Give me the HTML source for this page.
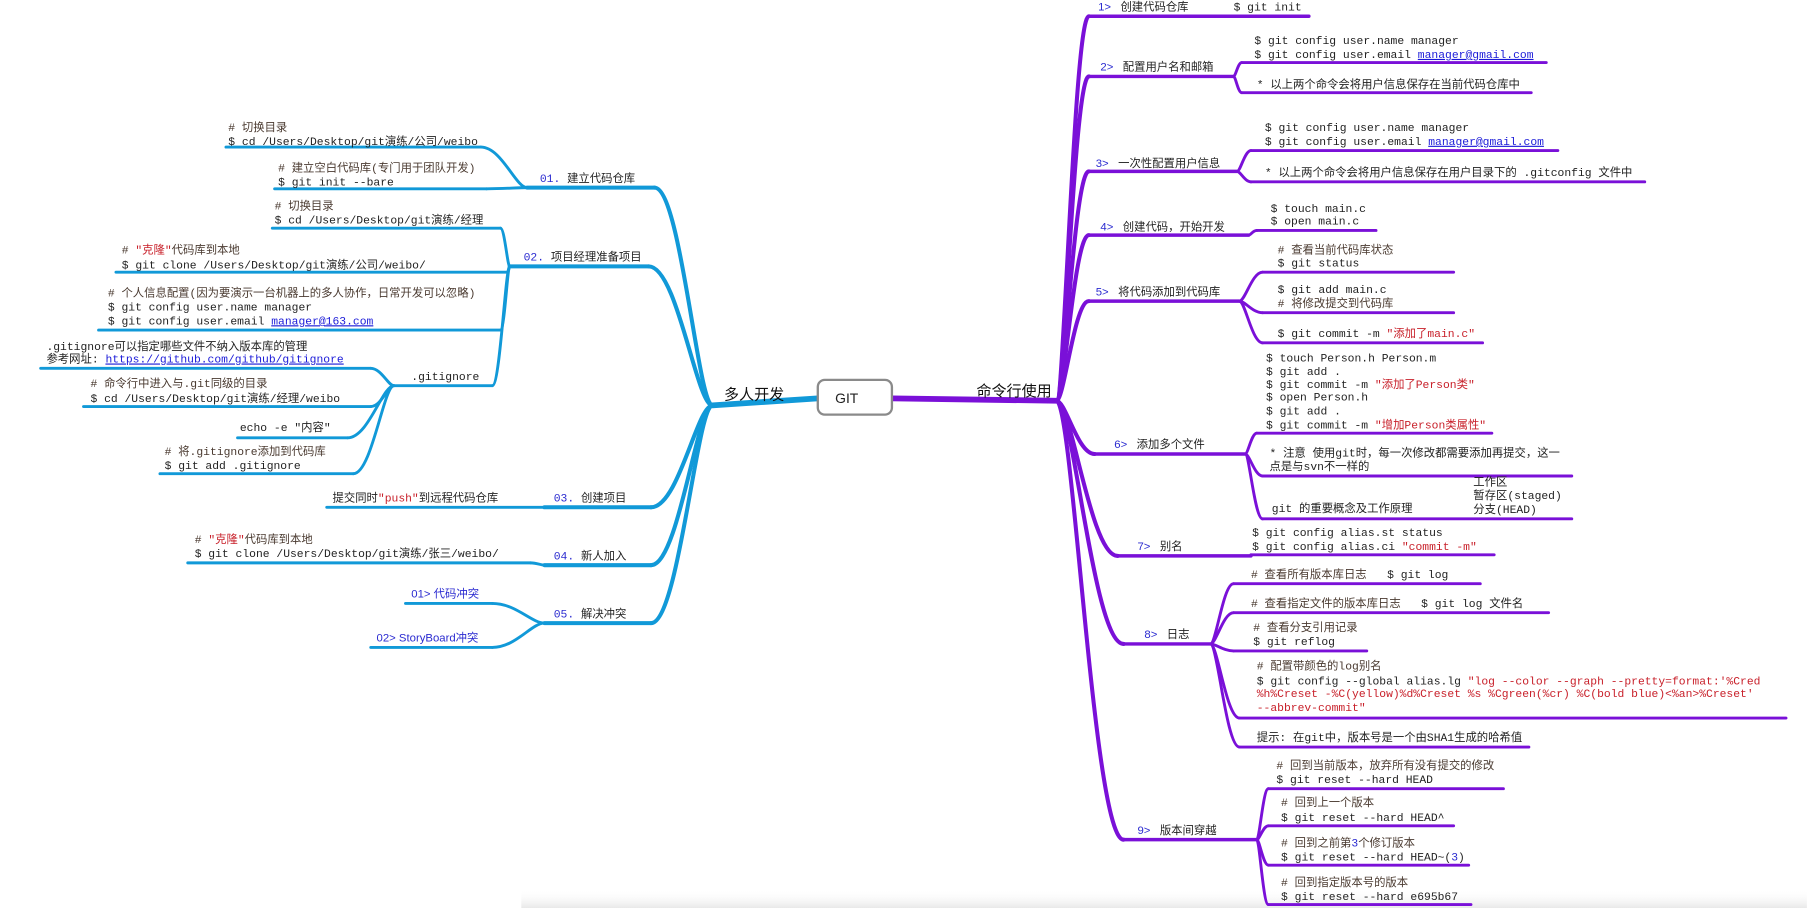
<!DOCTYPE html>
<html><head><meta charset="utf-8">
<style>
html,body{margin:0;padding:0;background:#fff;}
svg{display:block;}
text{font-family:"Liberation Mono","Noto Sans CJK SC",monospace;font-size:9.8px;fill:#222;white-space:pre;}
.s{font-family:"Liberation Sans","Noto Sans CJK SC",sans-serif;}
.b{fill:#2a2ad0;}
.r{fill:#c8202a;}
.c{fill:#4a3a30;}
.u{fill:#1a1ad8;text-decoration:underline;}
.big{font-family:"Liberation Sans","Noto Sans CJK SC",sans-serif;font-size:13px;fill:#111;}
</style></head><body>
<svg id="m" width="1807" height="908" viewBox="0 0 1560 784" xmlns="http://www.w3.org/2000/svg" xml:space="preserve">
<defs><linearGradient id="sh" x1="0" y1="0" x2="0" y2="1"><stop offset="0" stop-color="#fff" stop-opacity="0"/><stop offset="1" stop-color="#e8e8e8"/></linearGradient></defs>
<rect x="450" y="768" width="1110" height="16" fill="url(#sh)"/>
<g id="lines" fill="none" stroke-linecap="round"></g>

<rect x="706" y="328" width="64" height="30" rx="6" fill="#fff" stroke="#8a8a8a" stroke-width="2"/>
<text x="721" y="348" class="s" style="font-size:12px">GIT</text>
<text x="625" y="345" class="big">多人开发</text>
<text x="843" y="342" class="big">命令行使用</text>

<text x="466" y="157"><tspan class="b">01.</tspan> <tspan class="s">建立代码仓库</tspan></text>
<text x="197" y="113" class="c"># 切换目录</text>
<text x="197" y="125">$ cd /Users/Desktop/git演练/公司/weibo</text>
<text x="240" y="148" class="c"># 建立空白代码库(专门用于团队开发)</text>
<text x="240" y="160">$ git init --bare</text>

<text x="452" y="225"><tspan class="b">02.</tspan> <tspan class="s">项目经理准备项目</tspan></text>
<text x="237" y="181" class="c"># 切换目录</text>
<text x="237" y="193">$ cd /Users/Desktop/git演练/经理</text>
<text x="105" y="219" class="c"># <tspan class="r">"克隆"</tspan>代码库到本地</text>
<text x="105" y="232">$ git clone /Users/Desktop/git演练/公司/weibo/</text>
<text x="93" y="256" class="c"># 个人信息配置(因为要演示一台机器上的多人协作，日常开发可以忽略)</text>
<text x="93" y="268">$ git config user.name manager</text>
<text x="93" y="280">$ git config user.email <tspan class="u">manager@163.com</tspan></text>
<text x="355" y="328">.gitignore</text>
<text x="40" y="302">.gitignore可以指定哪些文件不纳入版本库的管理</text>
<text x="40" y="313">参考网址: <tspan class="u">https://github.com/github/gitignore</tspan></text>
<text x="78" y="334" class="c"># 命令行中进入与.git同级的目录</text>
<text x="78" y="347">$ cd /Users/Desktop/git演练/经理/weibo</text>
<text x="207" y="372">echo -e "内容"</text>
<text x="142" y="393" class="c"># 将.gitignore添加到代码库</text>
<text x="142" y="405">$ git add .gitignore</text>

<text x="478" y="433"><tspan class="b">03.</tspan> <tspan class="s">创建项目</tspan></text>
<text x="287" y="433">提交同时<tspan class="r">"push"</tspan>到远程代码仓库</text>
<text x="478" y="483"><tspan class="b">04.</tspan> <tspan class="s">新人加入</tspan></text>
<text x="168" y="469" class="c"># <tspan class="r">"克隆"</tspan>代码库到本地</text>
<text x="168" y="481">$ git clone /Users/Desktop/git演练/张三/weibo/</text>
<text x="478" y="533"><tspan class="b">05.</tspan> <tspan class="s">解决冲突</tspan></text>
<text x="355" y="516" class="s b">01&gt; 代码冲突</text>
<text x="325" y="554" class="s b">02&gt; StoryBoard冲突</text>

<text x="948" y="9" class="s"><tspan class="b">1&gt;</tspan>   创建代码仓库</text>
<text x="1065" y="9">$ git init</text>
<text x="950" y="61" class="s"><tspan class="b">2&gt;</tspan>   配置用户名和邮箱</text>
<text x="1083" y="38">$ git config user.name manager</text>
<text x="1083" y="50">$ git config user.email <tspan class="u">manager@gmail.com</tspan></text>
<text x="1085" y="76">* 以上两个命令会将用户信息保存在当前代码仓库中</text>
<text x="946" y="144" class="s"><tspan class="b">3&gt;</tspan>   一次性配置用户信息</text>
<text x="1092" y="113">$ git config user.name manager</text>
<text x="1092" y="125">$ git config user.email <tspan class="u">manager@gmail.com</tspan></text>
<text x="1092" y="152">* 以上两个命令会将用户信息保存在用户目录下的 .gitconfig 文件中</text>
<text x="950" y="199" class="s"><tspan class="b">4&gt;</tspan>   创建代码，开始开发</text>
<text x="1097" y="183">$ touch main.c</text>
<text x="1097" y="194">$ open main.c</text>
<text x="946" y="255" class="s"><tspan class="b">5&gt;</tspan>   将代码添加到代码库</text>
<text x="1103" y="219" class="c"># 查看当前代码库状态</text>
<text x="1103" y="230">$ git status</text>
<text x="1103" y="253">$ git add main.c</text>
<text x="1103" y="265" class="c"># 将修改提交到代码库</text>
<text x="1103" y="291">$ git commit -m <tspan class="r">"添加了main.c"</tspan></text>
<text x="962" y="387" class="s"><tspan class="b">6&gt;</tspan>   添加多个文件</text>
<text x="1093" y="312">$ touch Person.h Person.m</text>
<text x="1093" y="324">$ git add .</text>
<text x="1093" y="335">$ git commit -m <tspan class="r">"添加了Person类"</tspan></text>
<text x="1093" y="346">$ open Person.h</text>
<text x="1093" y="358">$ git add .</text>
<text x="1093" y="370">$ git commit -m <tspan class="r">"增加Person类属性"</tspan></text>
<text x="1096" y="394">* 注意 使用git时，每一次修改都需要添加再提交，这一</text>
<text x="1096" y="406">点是与svn不一样的</text>
<text x="1098" y="442">git 的重要概念及工作原理</text>
<text x="1272" y="419">工作区</text>
<text x="1272" y="431">暂存区(staged)</text>
<text x="1272" y="443">分支(HEAD)</text>
<text x="982" y="475" class="s"><tspan class="b">7&gt;</tspan>   别名</text>
<text x="1081" y="463">$ git config alias.st status</text>
<text x="1081" y="475">$ git config alias.ci <tspan class="r">"commit -m"</tspan></text>
<text x="988" y="551" class="s"><tspan class="b">8&gt;</tspan>   日志</text>
<text x="1080" y="499"><tspan class="c"># 查看所有版本库日志</tspan>   $ git log</text>
<text x="1080" y="524"><tspan class="c"># 查看指定文件的版本库日志</tspan>   $ git log 文件名</text>
<text x="1082" y="545" class="c"># 查看分支引用记录</text>
<text x="1082" y="557">$ git reflog</text>
<text x="1085" y="578" class="c"># 配置带颜色的log别名</text>
<text x="1085" y="591">$ git config --global alias.lg <tspan class="r">"log --color --graph --pretty=format:'%Cred</tspan></text>
<text x="1085" y="602" class="r">%h%Creset -%C(yellow)%d%Creset %s %Cgreen(%cr) %C(bold blue)&lt;%an&gt;%Creset'</text>
<text x="1085" y="614" class="r">--abbrev-commit"</text>
<text x="1085" y="640">提示: 在git中，版本号是一个由SHA1生成的哈希值</text>
<text x="982" y="720" class="s"><tspan class="b">9&gt;</tspan>   版本间穿越</text>
<text x="1102" y="664" class="c"># 回到当前版本，放弃所有没有提交的修改</text>
<text x="1102" y="676">$ git reset --hard HEAD</text>
<text x="1106" y="696" class="c"># 回到上一个版本</text>
<text x="1106" y="709">$ git reset --hard HEAD^</text>
<text x="1106" y="731" class="c"># 回到之前第<tspan class="b">3</tspan>个修订版本</text>
<text x="1106" y="743">$ git reset --hard HEAD~(<tspan class="b">3</tspan>)</text>
<text x="1106" y="765" class="c"># 回到指定版本号的版本</text>
<text x="1106" y="777">$ git reset --hard e695b67</text>
</svg>
<script>
(function(){
var g=document.getElementById('lines'),ns='http://www.w3.org/2000/svg';
function P(d,c,w){var p=document.createElementNS(ns,'path');p.setAttribute('d',d);p.setAttribute('stroke',c);p.setAttribute('stroke-width',w);g.appendChild(p);}
function V(x1,y1,x2,y2){var dx=x2-x1;return 'M'+x1+' '+y1+' C'+(x1+dx*0.25)+' '+y1+' '+(x1+dx*0.55)+' '+y2+' '+x2+' '+y2;}
var B='#1199d8',U='#7a10d8';
var hx=615,hy=350;
P('M'+hx+' '+hy+' L706 344',B,5);
var L=[[455,565,162,[[195,415,127],[237,420,163]]],
[440,560,230,[[235,432,197],[100,438,235],[85,432,285],[340,425,333,[[35,320,318],[72,320,351],[205,300,378],[138,305,409]]]]],
[470,562,438,[[282,470,438]]],
[470,562,488,[[162,458,486]]],
[470,562,538,[[350,425,521],[320,425,559]]]];
function left(n,px,py,w){
 P(V(px,py,n[1],n[2]),B,w);
 P('M'+n[0]+' '+n[2]+' L'+n[1]+' '+n[2],B,w);
 if(n[3])n[3].forEach(function(c){left(c,n[0],n[2],2.5);});
}
L.forEach(function(n){left(n,hx,hy,3.5);});
var rx=912,ry=346;
P('M770 344 L'+rx+' '+ry,U,5);
var R=[[940,1130,14],[940,1065,66,[[1072,1335,54],[1072,1322,80]]],
[940,1068,148,[[1080,1345,130],[1080,1420,157]]],
[940,1078,203,[[1085,1188,199]]],
[940,1070,260,[[1090,1255,235],[1090,1255,270],[1090,1280,296]]],
[945,1075,392,[[1085,1288,374],[1090,1357,411],[1090,1357,448]]],
[965,1080,480,[[1080,1290,479]]],
[970,1045,556,[[1065,1278,504],[1065,1337,529],[1065,1180,562],[1070,1542,620],[1070,1320,645]]],
[970,1085,725,[[1095,1298,681],[1095,1255,713],[1095,1268,747],[1095,1270,781]]]];
R.forEach(function(n){
 P(V(rx,ry,n[0],n[2]),U,3.5);
 P('M'+n[0]+' '+n[2]+' L'+n[1]+' '+n[2],U,3);
 if(n[3])n[3].forEach(function(c){
  P(V(n[1],n[2],c[0],c[2]),U,2.5);
  P('M'+c[0]+' '+c[2]+' L'+c[1]+' '+c[2],U,2.5);
 });
});
})();
</script>
</body></html>
